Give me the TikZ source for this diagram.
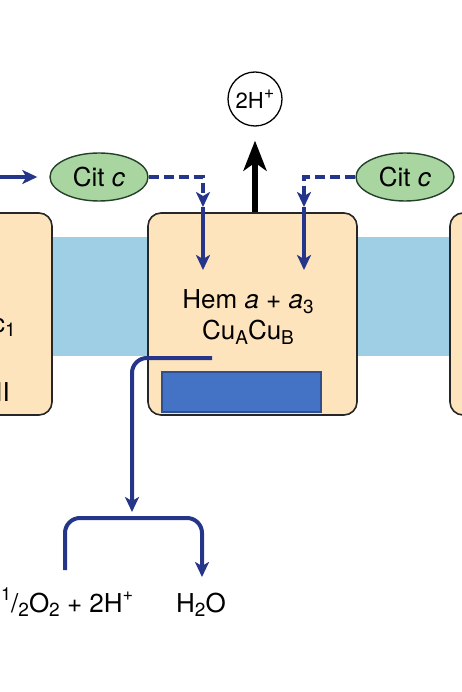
\documentclass[tikz,border=0pt]{standalone}
\usepackage{fontspec}
\setmainfont{TeX Gyre Heros}
\usepackage{tikz}
\usetikzlibrary{arrows.meta,positioning,shapes.geometric}
\definecolor{elecblue}{HTML}{25368A}
\definecolor{complexfill}{HTML}{FDE4BC}
\definecolor{membrane}{HTML}{9FCFE4}
\definecolor{cytfill}{HTML}{A9D5A1}
\definecolor{cytborder}{HTML}{23402A}
\definecolor{coverfill}{HTML}{4472C4}
\definecolor{coverborder}{HTML}{2F4F8F}
\newcommand\dn[1]{\raisebox{-0.35ex}{\fontsize{19}{19}\selectfont #1}}
\newcommand\up[1]{\raisebox{0.85ex}{\fontsize{18}{18}\selectfont #1}}

\begin{document}
\begin{tikzpicture}[x=1pt, y=-1pt,
  every node/.style={font=\fontsize{26}{31}\selectfont},
  complex/.style={draw=black!85, line width=1.6pt, rounded corners=13pt, fill=complexfill},
  cyt/.style={draw=cytborder, line width=1.4pt, ellipse, fill=cytfill, minimum width=98pt, minimum height=48pt, inner sep=0pt},
  elec/.style={draw=elecblue, line width=4pt},
  transfer/.style={elec, dash pattern=on 10pt off 5pt},
  pump/.style={draw=black, line width=6pt, -{Stealth[length=30pt,width=23pt,inset=8pt]}},
  >={Stealth[length=15pt,width=14pt,inset=4pt]}
]
  \useasboundingbox (0,0) rectangle (462,692);

  % membrane band
  \fill[membrane] (0,237) rectangle (462,356);

  % complexes
  \node[complex, minimum width=112pt, minimum height=202pt] (cIII) at (-4,314) {};
  \node[complex, minimum width=209pt, minimum height=202pt] (cIV) at (252.5,314) {};
  \node[complex, minimum width=80pt, minimum height=202pt] (cRight) at (490,314) {};

  \node[anchor=base east, inner sep=0pt] (c1) at (16,332) {Cit c\dn{1}};
  \node[anchor=base east, inner sep=0pt] (cIIIlab) at (10,401) {III};
  \node[align=center] (hem) at (248,317) {Hem \textit{a} + \textit{a}\dn{3}\\Cu\dn{A}Cu\dn{B}};
  \node[draw=coverborder, line width=1.2pt, fill=coverfill, minimum width=159pt, minimum height=40pt] (cover) at (241.5,392) {};

  % cytochrome c
  \node[cyt] (citL) at (99,177) {Cit \textit{c}};
  \node[cyt] (citR) at (405,177) {Cit \textit{c}};

  % proton pumping
  \node[draw, circle, line width=1.3pt, minimum size=54pt, inner sep=0pt, font=\fontsize{22}{26}\selectfont] (hplus) at (255,99) {2H\up{+}};
  \draw[pump] (cIV.north -| hplus) -- (hplus.south) [shorten >=14pt];

  % electron path
  \coordinate (eIn) at (0,177);
  \coordinate (midL) at (203,207);
  \coordinate (endL) at (203,270);
  \coordinate (midR) at (304,207);
  \coordinate (endR) at (304,270);
  \draw[elec, ->, shorten >=12pt] (eIn) -- (citL);
  \draw[transfer, ->] (citL.east) -| (midL);
  \draw[elec, ->] (midL) -- (endL);
  \draw[transfer, ->] (citR.west) -| (midR);
  \draw[elec, ->] (midR) -- (endR);

  % oxygen reduction
  \coordinate (eStart) at (212,358);
  \coordinate (fork) at (132,518);
  \coordinate (o2top) at (65,570);
  \coordinate (h2otop) at (202,577);
  \draw[elec, ->, rounded corners=15pt, shorten >=6pt] (eStart) -| (fork);
  \draw[elec, ->, rounded corners=15pt] (o2top) |- (fork) -| (h2otop);

  \node[anchor=base west, inner xsep=1pt] (o2) at (0,612) {\up{1}/\dn{2}O\dn{2} + 2H\up{+}};
  \node[anchor=base] (h2o) at (201,612) {H\dn{2}O};
\end{tikzpicture}
\end{document}
